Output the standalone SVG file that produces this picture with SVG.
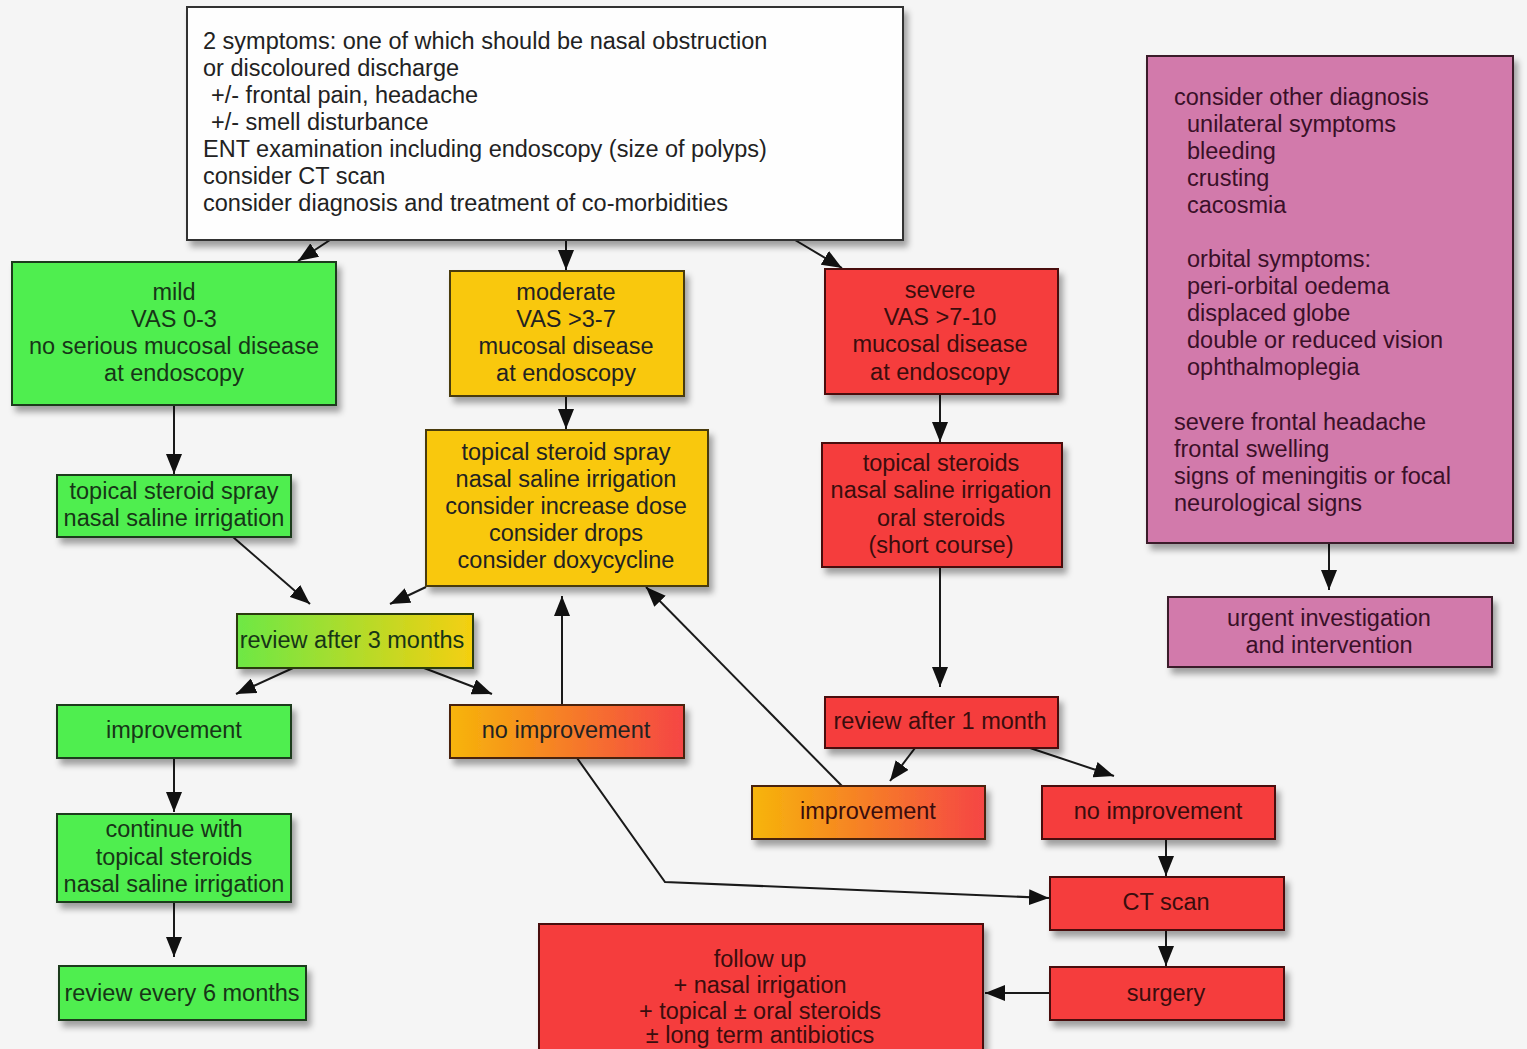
<svg xmlns="http://www.w3.org/2000/svg" width="1527" height="1049" viewBox="0 0 1527 1049">
<style>
text{font-family:"Liberation Sans",Arial,sans-serif;font-size:23.5px;fill:#222;}
.c{text-anchor:middle;}
.box{stroke-width:2;filter:url(#sh);}
.white{fill:#fefefe;stroke:#333;}
.green{fill:#50ee50;stroke:#1d3b1d;}
.gold{fill:#f9c80f;stroke:#4a3a10;}
.red{fill:#f53d3d;stroke:#4a1010;}
.purple{fill:#d27aab;stroke:#3a1a2a;}
.tg{fill:#173517;}
.tr{fill:#3a0d0d;}
.tp{fill:#3a1028;}
.conn line,.conn polyline{stroke:#1a1a1a;stroke-width:2;fill:none;marker-end:url(#ah);}
</style>
<defs>
<filter id="sh" x="-10%" y="-10%" width="130%" height="140%">
<feDropShadow dx="4" dy="6" stdDeviation="3" flood-color="#000" flood-opacity="0.35"/>
</filter>
<marker id="ah" markerUnits="userSpaceOnUse" markerWidth="20" markerHeight="16" refX="20" refY="8" orient="auto">
<path d="M0,0 L20,8 L0,16 z" fill="#111"/>
</marker>
<linearGradient id="gy" x1="0" y1="0" x2="1" y2="0">
<stop offset="0" stop-color="#6de845"/><stop offset="1" stop-color="#f5cf10"/>
</linearGradient>
<linearGradient id="or" x1="0" y1="0" x2="1" y2="0">
<stop offset="0" stop-color="#f7b50a"/><stop offset="1" stop-color="#f54545"/>
</linearGradient>
</defs>
<rect width="1527" height="1049" fill="#f5f5f5"/>

<g class="conn">
<line x1="330" y1="240" x2="298" y2="261"/>
<line x1="566" y1="240" x2="566" y2="270"/>
<line x1="795" y1="240" x2="842" y2="268"/>
<line x1="174" y1="405" x2="174" y2="474"/>
<line x1="566" y1="396" x2="566" y2="429"/>
<line x1="940" y1="394" x2="940" y2="442"/>
<line x1="233" y1="537" x2="310" y2="604"/>
<line x1="426" y1="587" x2="390" y2="604"/>
<line x1="293" y1="668" x2="236" y2="694"/>
<line x1="424" y1="668" x2="492" y2="694"/>
<line x1="562" y1="705" x2="562" y2="596"/>
<line x1="842" y1="786" x2="646" y2="587"/>
<polyline points="577,758 665,882 1049,898"/>
<line x1="940" y1="567" x2="940" y2="687"/>
<line x1="915" y1="748" x2="890" y2="781"/>
<line x1="1030" y1="748" x2="1114" y2="776"/>
<line x1="1166" y1="839" x2="1166" y2="876"/>
<line x1="1166" y1="930" x2="1166" y2="966"/>
<line x1="1050" y1="993" x2="985" y2="993"/>
<line x1="1329" y1="543" x2="1329" y2="590"/>
<line x1="174" y1="758" x2="174" y2="812"/>
<line x1="174" y1="902" x2="174" y2="957"/>
</g>

<g id="n-symptoms">
<rect class="box white" x="187" y="7" width="716" height="233"/>
<text x="203" y="49">2 symptoms: one of which should be nasal obstruction</text>
<text x="203" y="76">or discoloured discharge</text>
<text x="211" y="103">+/- frontal pain, headache</text>
<text x="211" y="130">+/- smell disturbance</text>
<text x="203" y="157">ENT examination including endoscopy (size of polyps)</text>
<text x="203" y="184">consider CT scan</text>
<text x="203" y="211">consider diagnosis and treatment of co-morbidities</text>
</g>

<g id="n-mild">
<rect class="box green" x="12" y="262" width="324" height="143"/>
<text class="c tg" x="174" y="300">mild</text>
<text class="c tg" x="174" y="327">VAS 0-3</text>
<text class="c tg" x="174" y="354">no serious mucosal disease</text>
<text class="c tg" x="174" y="381">at endoscopy</text>
</g>

<g id="n-moderate">
<rect class="box gold" x="450" y="271" width="234" height="125"/>
<text class="c" x="566" y="300">moderate</text>
<text class="c" x="566" y="327">VAS &gt;3-7</text>
<text class="c" x="566" y="354">mucosal disease</text>
<text class="c" x="566" y="381">at endoscopy</text>
</g>

<g id="n-severe">
<rect class="box red" x="825" y="269" width="233" height="125"/>
<text class="c tr" x="940" y="298">severe</text>
<text class="c tr" x="940" y="325">VAS &gt;7-10</text>
<text class="c tr" x="940" y="352">mucosal disease</text>
<text class="c tr" x="940" y="380">at endoscopy</text>
</g>

<g id="n-other">
<rect class="box purple" x="1147" y="56" width="366" height="487"/>
<text class="tp" x="1174" y="105">consider other diagnosis</text>
<text class="tp" x="1187" y="132">unilateral symptoms</text>
<text class="tp" x="1187" y="159">bleeding</text>
<text class="tp" x="1187" y="186">crusting</text>
<text class="tp" x="1187" y="213">cacosmia</text>
<text class="tp" x="1187" y="267">orbital symptoms:</text>
<text class="tp" x="1187" y="294">peri-orbital oedema</text>
<text class="tp" x="1187" y="321">displaced globe</text>
<text class="tp" x="1187" y="348">double or reduced vision</text>
<text class="tp" x="1187" y="375">ophthalmoplegia</text>
<text class="tp" x="1174" y="430">severe frontal headache</text>
<text class="tp" x="1174" y="457">frontal swelling</text>
<text class="tp" x="1174" y="484">signs of meningitis or focal</text>
<text class="tp" x="1174" y="511">neurological signs</text>
</g>

<g id="n-urgent">
<rect class="box purple" x="1168" y="597" width="324" height="70"/>
<text class="c tp" x="1329" y="626">urgent investigation</text>
<text class="c tp" x="1329" y="653">and intervention</text>
</g>

<g id="n-mild-tx">
<rect class="box green" x="57" y="475" width="234" height="62"/>
<text class="c tg" x="174" y="499">topical steroid spray</text>
<text class="c tg" x="174" y="526">nasal saline irrigation</text>
</g>

<g id="n-mod-tx">
<rect class="box gold" x="426" y="430" width="282" height="156"/>
<text class="c" x="566" y="460">topical steroid spray</text>
<text class="c" x="566" y="487">nasal saline irrigation</text>
<text class="c" x="566" y="514">consider increase dose</text>
<text class="c" x="566" y="541">consider drops</text>
<text class="c" x="566" y="568">consider doxycycline</text>
</g>

<g id="n-sev-tx">
<rect class="box red" x="822" y="443" width="240" height="124"/>
<text class="c tr" x="941" y="471">topical steroids</text>
<text class="c tr" x="941" y="498">nasal saline irrigation</text>
<text class="c tr" x="941" y="526">oral steroids</text>
<text class="c tr" x="941" y="553">(short course)</text>
</g>

<g id="n-review3">
<rect class="box" x="237" y="614" width="236" height="54" fill="url(#gy)" stroke="#2a3a10"/>
<text class="c tg" x="352" y="648">review after 3 months</text>
</g>

<g id="n-improve-g">
<rect class="box green" x="57" y="705" width="234" height="53"/>
<text class="c tg" x="174" y="738">improvement</text>
</g>

<g id="n-noimprove-m">
<rect class="box" x="450" y="705" width="234" height="53" fill="url(#or)" stroke="#4a2010"/>
<text class="c" x="566" y="738">no improvement</text>
</g>

<g id="n-continue">
<rect class="box green" x="57" y="814" width="234" height="88"/>
<text class="c tg" x="174" y="837">continue with</text>
<text class="c tg" x="174" y="865">topical steroids</text>
<text class="c tg" x="174" y="892">nasal saline irrigation</text>
</g>

<g id="n-review6">
<rect class="box green" x="59" y="966" width="247" height="54"/>
<text class="c tg" x="182" y="1001">review every 6 months</text>
</g>

<g id="n-review1">
<rect class="box red" x="825" y="697" width="233" height="51"/>
<text class="c tr" x="940" y="729">review after 1 month</text>
</g>

<g id="n-improve-s">
<rect class="box" x="752" y="786" width="233" height="53" fill="url(#or)" stroke="#4a2010"/>
<text class="c tr" x="868" y="819">improvement</text>
</g>

<g id="n-noimprove-s">
<rect class="box red" x="1042" y="786" width="233" height="53"/>
<text class="c tr" x="1158" y="819">no improvement</text>
</g>

<g id="n-ct">
<rect class="box red" x="1050" y="877" width="234" height="53"/>
<text class="c tr" x="1166" y="910">CT scan</text>
</g>

<g id="n-surgery">
<rect class="box red" x="1050" y="967" width="234" height="53"/>
<text class="c tr" x="1166" y="1001">surgery</text>
</g>

<g id="n-followup">
<rect class="box red" x="539" y="924" width="444" height="150"/>
<text class="c tr" x="760" y="967">follow up</text>
<text class="c tr" x="760" y="993">+ nasal irrigation</text>
<text class="c tr" x="760" y="1019">+ topical ± oral steroids</text>
<text class="c tr" x="760" y="1043">± long term antibiotics</text>
</g>
</svg>
